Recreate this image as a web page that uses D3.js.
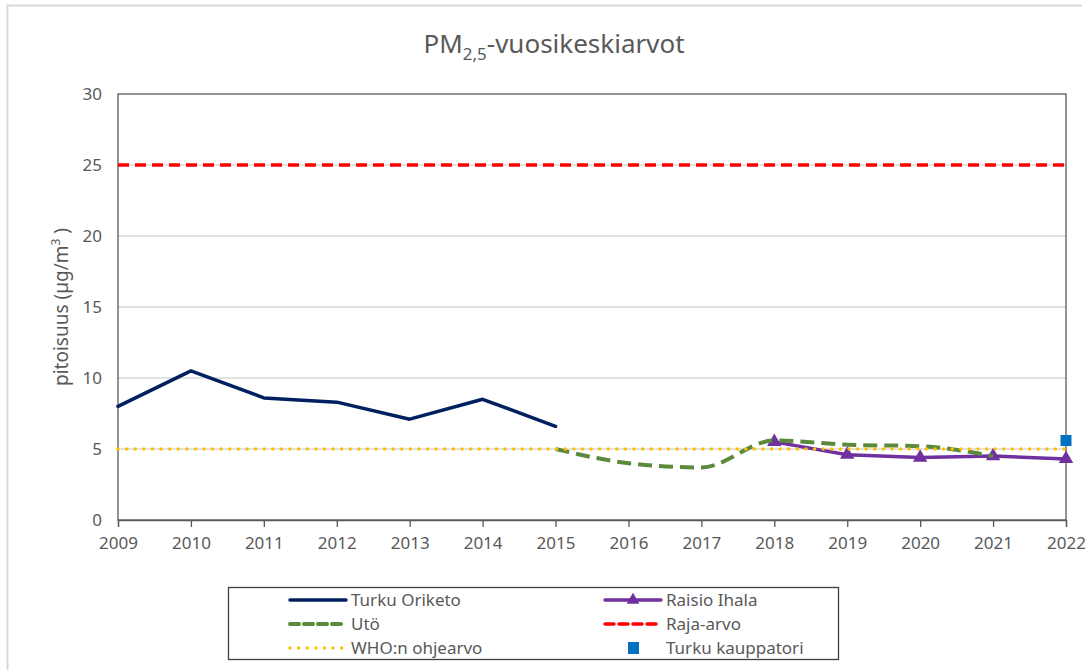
<!DOCTYPE html>
<html>
<head>
<meta charset="utf-8">
<script src="https://cdn.jsdelivr.net/npm/d3@7"></script>
<style>
  body { margin: 0; background: #fff; }
  text { font-family: "Noto Sans", "Open Sans", sans-serif; fill: #595959; }
</style>
</head>
<body>
<script>
// data
var years = [2009, 2010, 2011, 2012, 2013, 2014, 2015, 2016, 2017, 2018, 2019, 2020, 2021, 2022];
var oriketoYears = [2009, 2010, 2011, 2012, 2013, 2014, 2015];
var oriketo = [8.0, 10.5, 8.6, 8.3, 7.1, 8.5, 6.6];
var raisioYears = [2018, 2019, 2020, 2021, 2022];
var raisio = [5.5, 4.6, 4.4, 4.5, 4.3];
var utoYears = [2015, 2016, 2017, 2018, 2019, 2020, 2021];
var uto = [5.0, 4.0, 3.7, 5.6, 5.3, 5.2, 4.5];
var rajaYears = [2009, 2022];
var raja = [25, 25];
var whoYears = [2009, 2022];
var who = [5, 5];
var kauppatoriYears = [2022];
var kauppatori = [5.6];
var yTicks = [0, 5, 10, 15, 20, 25, 30];

var width = 1091, height = 670;
var plotLeft = 118, plotRight = 1066, plotTop = 94, plotBottom = 520;

var svg = d3.select("body").append("svg")
    .attr("width", width)
    .attr("height", height);

// chart frame (light grey)
svg.append("path")
    .attr("d", "M7.5,670 V5.5 H1082")
    .attr("fill", "none")
    .attr("stroke", "#d9d9d9")
    .attr("stroke-width", 2);

var x = d3.scaleLinear().domain([2009, 2022]).range([plotLeft, plotRight]);
var y = d3.scaleLinear().domain([0, 30]).range([plotBottom, plotTop]);

// gridlines
svg.append("g")
    .selectAll("line")
    .data(yTicks.filter(function(d) { return d > 0 && d < 30; }))
    .enter().append("line")
    .attr("x1", plotLeft).attr("x2", plotRight)
    .attr("y1", function(d) { return y(d); })
    .attr("y2", function(d) { return y(d); })
    .attr("stroke", "#d9d9d9")
    .attr("stroke-width", 1.3);

// plot area border
svg.append("rect")
    .attr("x", plotLeft).attr("y", plotTop)
    .attr("width", plotRight - plotLeft).attr("height", plotBottom - plotTop)
    .attr("fill", "none")
    .attr("stroke", "#595959")
    .attr("stroke-width", 1.3);

// x axis
var xAxis = svg.append("g")
    .attr("transform", "translate(0," + plotBottom + ")")
    .call(d3.axisBottom(x).tickValues(years).tickFormat(d3.format("d")).tickSize(7).tickPadding(10));
xAxis.select(".domain").attr("stroke", "#595959").attr("stroke-width", 1.3);
xAxis.selectAll(".tick line").attr("stroke", "#595959").attr("stroke-width", 1.3);
xAxis.selectAll("text").style("font-size", "17px").attr("fill", "#595959")
    .style("font-family", "'Noto Sans', sans-serif");

// y axis
var yAxis = svg.append("g")
    .attr("transform", "translate(" + plotLeft + ",0)")
    .call(d3.axisLeft(y).tickValues(yTicks).tickSize(0).tickPadding(16));
yAxis.select(".domain").remove();
yAxis.selectAll("text").style("font-size", "17px").attr("fill", "#595959")
    .style("font-family", "'Noto Sans', sans-serif");

// title
var title = svg.append("text")
    .attr("x", 554).attr("y", 53)
    .attr("text-anchor", "middle")
    .style("font-size", "26px");
title.append("tspan").text("PM");
title.append("tspan").attr("dy", 7).style("font-size", "17px").text("2,5");
title.append("tspan").attr("dy", -7).text("-vuosikeskiarvot");

// y label
var ylab = svg.append("text")
    .attr("transform", "translate(68," + ((plotTop + plotBottom) / 2) + ") rotate(-90)")
    .attr("text-anchor", "middle")
    .style("font-size", "19px");
ylab.append("tspan").text("pitoisuus (µg/m");
ylab.append("tspan").attr("dy", -8).style("font-size", "12px").text("3");
ylab.append("tspan").attr("dy", 8).text(" )");

function pts(xs, vs) {
    return xs.map(function(d, i) { return [x(d), y(vs[i])]; });
}

var line = d3.line();
var smooth = d3.line().curve(d3.curveMonotoneX);

// Turku Oriketo
svg.append("path")
    .attr("d", line(pts(oriketoYears, oriketo)))
    .attr("fill", "none").attr("stroke", "#002060").attr("stroke-width", 3.5)
    .attr("stroke-linejoin", "round").attr("stroke-linecap", "round");

// Raisio Ihala
svg.append("path")
    .attr("d", line(pts(raisioYears, raisio)))
    .attr("fill", "none").attr("stroke", "#7030a0").attr("stroke-width", 3.5)
    .attr("stroke-linejoin", "round");
svg.append("g").selectAll("path")
    .data(pts(raisioYears, raisio))
    .enter().append("path")
    .attr("d", d3.symbol().type(d3.symbolTriangle).size(90))
    .attr("transform", function(d) { return "translate(" + d[0] + "," + d[1] + ")"; })
    .attr("fill", "#7030a0");

// Utö
svg.append("path")
    .attr("d", smooth(pts(utoYears, uto)))
    .attr("fill", "none").attr("stroke", "#5b8a3c").attr("stroke-width", 4)
    .attr("stroke-dasharray", "14,7");

// Raja-arvo
svg.append("path")
    .attr("d", line(pts(rajaYears, raja)))
    .attr("fill", "none").attr("stroke", "#ff0000").attr("stroke-width", 3.5)
    .attr("stroke-dasharray", "11,6");

// WHO
svg.append("path")
    .attr("d", line(pts(whoYears, who)))
    .attr("fill", "none").attr("stroke", "#ffc000").attr("stroke-width", 3.5)
    .attr("stroke-dasharray", "0,8.6").attr("stroke-linecap", "round");

// Turku kauppatori
svg.append("g").selectAll("rect")
    .data(pts(kauppatoriYears, kauppatori))
    .enter().append("rect")
    .attr("x", function(d) { return d[0] - 5.5; })
    .attr("y", function(d) { return d[1] - 5.5; })
    .attr("width", 11).attr("height", 11)
    .attr("fill", "#0070c0");

// legend
svg.append("rect")
    .attr("x", 228.5).attr("y", 587.5)
    .attr("width", 610).attr("height", 72)
    .attr("fill", "none").attr("stroke", "#404040").attr("stroke-width", 1.3);

var legendItems = [
    { name: "Turku Oriketo", col: 0, row: 0, color: "#002060", dash: null, w: 3.5 },
    { name: "Raisio Ihala", col: 1, row: 0, color: "#7030a0", dash: null, w: 3.5, marker: "tri" },
    { name: "Utö", col: 0, row: 1, color: "#5b8a3c", dash: "9,5", w: 4 },
    { name: "Raja-arvo", col: 1, row: 1, color: "#ff0000", dash: "9,5", w: 3.5 },
    { name: "WHO:n ohjearvo", col: 0, row: 2, color: "#ffc000", dash: "0,8.6", w: 3.5, cap: "round" },
    { name: "Turku kauppatori", col: 1, row: 2, color: "#0070c0", marker: "sq", noLine: true }
];
var colX = [290, 605], rowY = [600, 624, 648];

var lg = svg.append("g").selectAll("g")
    .data(legendItems)
    .enter().append("g")
    .attr("transform", function(d) { return "translate(" + colX[d.col] + "," + rowY[d.row] + ")"; });

lg.filter(function(d) { return !d.noLine; }).append("line")
    .attr("x1", 0).attr("x2", 56)
    .attr("stroke", function(d) { return d.color; })
    .attr("stroke-width", function(d) { return d.w; })
    .attr("stroke-dasharray", function(d) { return d.dash; })
    .attr("stroke-linecap", function(d) { return d.cap || "round"; });

lg.filter(function(d) { return d.marker === "tri"; }).append("path")
    .attr("d", d3.symbol().type(d3.symbolTriangle).size(70))
    .attr("transform", "translate(28,0)")
    .attr("fill", function(d) { return d.color; });

lg.filter(function(d) { return d.marker === "sq"; }).append("rect")
    .attr("x", 23).attr("y", -6).attr("width", 11).attr("height", 12)
    .attr("fill", function(d) { return d.color; });

lg.append("text")
    .attr("x", 61).attr("dy", "0.35em")
    .style("font-size", "17px")
    .text(function(d) { return d.name; });
</script>
</body>
</html>
